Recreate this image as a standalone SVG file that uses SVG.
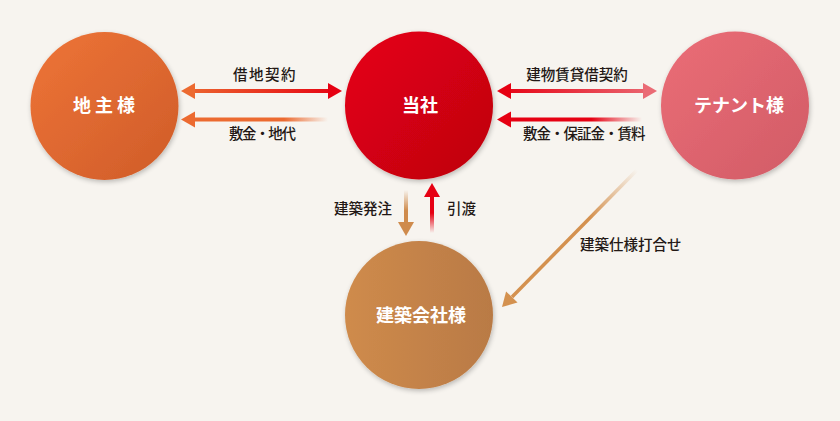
<svg xmlns="http://www.w3.org/2000/svg" width="840" height="421" viewBox="0 0 840 421">
<style>
.lbl{font-family:"Noto Sans CJK JP","Noto Sans",sans-serif;font-size:14.5px;font-weight:500;fill:#231815;}
.nd{font-family:"Noto Sans CJK JP","Noto Sans",sans-serif;font-size:18px;font-weight:bold;fill:#fff;text-anchor:middle;}
</style>
<defs>
<filter id="sh" x="-20%" y="-20%" width="140%" height="140%">
<feGaussianBlur in="SourceAlpha" stdDeviation="2.5"/>
<feOffset dx="1" dy="2" result="b"/>
<feComponentTransfer><feFuncA type="linear" slope="0.25"/></feComponentTransfer>
<feMerge><feMergeNode/><feMergeNode in="SourceGraphic"/></feMerge>
</filter>
<linearGradient id="gJ" x1="0" y1="0" x2="1" y2="1"><stop offset="0" stop-color="#ee7437"/><stop offset="1" stop-color="#cf5c29"/></linearGradient>
<linearGradient id="gT" x1="0" y1="0" x2="1" y2="1"><stop offset="0" stop-color="#e70415"/><stop offset="1" stop-color="#bd000f"/></linearGradient>
<linearGradient id="gN" x1="0" y1="0" x2="1" y2="1"><stop offset="0" stop-color="#eb6d76"/><stop offset="1" stop-color="#d15c67"/></linearGradient>
<linearGradient id="gK" x1="0" y1="0" x2="1" y2="0"><stop offset="0" stop-color="#cf8b4c"/><stop offset="1" stop-color="#b97a45"/></linearGradient>
<linearGradient id="a1" gradientUnits="userSpaceOnUse" x1="181" y1="0" x2="342" y2="0"><stop offset="0" stop-color="#ec6a30"/><stop offset="1" stop-color="#e60012"/></linearGradient>
<linearGradient id="a2" gradientUnits="userSpaceOnUse" x1="181" y1="0" x2="328" y2="0"><stop offset="0" stop-color="#ec6a30"/><stop offset="0.7" stop-color="#ec6a30"/><stop offset="1" stop-color="#ec6a30" stop-opacity="0"/></linearGradient>
<linearGradient id="a3" gradientUnits="userSpaceOnUse" x1="497" y1="0" x2="657" y2="0"><stop offset="0" stop-color="#e60012"/><stop offset="1" stop-color="#ea6b75"/></linearGradient>
<linearGradient id="a4" gradientUnits="userSpaceOnUse" x1="497" y1="0" x2="642" y2="0"><stop offset="0" stop-color="#e60012"/><stop offset="0.65" stop-color="#e60012"/><stop offset="1" stop-color="#e60012" stop-opacity="0"/></linearGradient>
<linearGradient id="a5" gradientUnits="userSpaceOnUse" x1="0" y1="190" x2="0" y2="236"><stop offset="0" stop-color="#cf8b4c" stop-opacity="0"/><stop offset="0.45" stop-color="#cf8b4c"/><stop offset="1" stop-color="#cf8b4c"/></linearGradient>
<linearGradient id="a6" gradientUnits="userSpaceOnUse" x1="0" y1="183" x2="0" y2="233"><stop offset="0" stop-color="#e60012"/><stop offset="0.6" stop-color="#e60012"/><stop offset="1" stop-color="#e60012" stop-opacity="0"/></linearGradient>
<linearGradient id="a7" gradientUnits="userSpaceOnUse" x1="637" y1="170" x2="502" y2="307"><stop offset="0" stop-color="#d4914f" stop-opacity="0"/><stop offset="0.35" stop-color="#d4914f"/><stop offset="1" stop-color="#d4914f"/></linearGradient>
</defs>
<rect width="840" height="421" fill="#f7f4ef"/>

<g id="connectors">
<g id="c-shakuchi">
<rect x="194" y="89" width="135" height="4" fill="url(#a1)"/>
<polygon points="181,91 195,83 195,99" fill="#ec6a30"/>
<polygon points="342,91 328,83 328,99" fill="#e60012"/>
<text class="lbl" x="265" y="80" text-anchor="middle" letter-spacing="1.5">借地契約</text>
</g>
<g id="c-shikikin">
<rect x="194" y="117.5" width="134" height="4" fill="url(#a2)"/>
<polygon points="181,119.5 195,111.5 195,127.5" fill="#ec6a30"/>
<text class="lbl" x="229" y="139" letter-spacing="-1.4">敷金・地代</text>
</g>
<g id="c-tatemono">
<rect x="510" y="89" width="134" height="4" fill="url(#a3)"/>
<polygon points="497,91 511,83 511,99" fill="#e60012"/>
<polygon points="657,91 643,83 643,99" fill="#ea6b75"/>
<text class="lbl" x="577" y="80" text-anchor="middle">建物賃貸借契約</text>
</g>
<g id="c-hoshokin">
<rect x="510" y="117.5" width="132" height="4" fill="url(#a4)"/>
<polygon points="497,119.5 511,111.5 511,127.5" fill="#e60012"/>
<text class="lbl" x="523" y="139" letter-spacing="-1">敷金・保証金・賃料</text>
</g>
<g id="c-hacchu">
<rect x="404" y="190" width="4" height="34" fill="url(#a5)"/>
<polygon points="406,236 398,222 414,222" fill="#cf8b4c"/>
<text class="lbl" x="392" y="214" text-anchor="end">建築発注</text>
</g>
<g id="c-hikiwatashi">
<rect x="430" y="195" width="4" height="38" fill="url(#a6)"/>
<polygon points="432,183 424,197 440,197" fill="#e60012"/>
<text class="lbl" x="447" y="214">引渡</text>
</g>
<g id="c-shiyou">
<line x1="637" y1="170" x2="512" y2="297" stroke="url(#a7)" stroke-width="3.5"/>
<polygon points="502,307 517.5,302.6 506.1,291.4" fill="#d4914f"/>
<text class="lbl" x="580" y="250">建築仕様打合せ</text>
</g>
</g>

<g id="n-jinushi"><circle cx="104.5" cy="106" r="74" fill="url(#gJ)" filter="url(#sh)"/><text class="nd" x="106" y="112" letter-spacing="4">地主様</text></g>
<g id="n-tousha"><circle cx="419" cy="105.5" r="74" fill="url(#gT)" filter="url(#sh)"/><text class="nd" x="420" y="112">当社</text></g>
<g id="n-tenant"><circle cx="735" cy="105.5" r="74" fill="url(#gN)" filter="url(#sh)"/><text class="nd" x="739" y="112">テナント様</text></g>
<g id="n-kenchiku"><circle cx="419" cy="315" r="74" fill="url(#gK)" filter="url(#sh)"/><text class="nd" x="421" y="322">建築会社様</text></g>
</svg>
